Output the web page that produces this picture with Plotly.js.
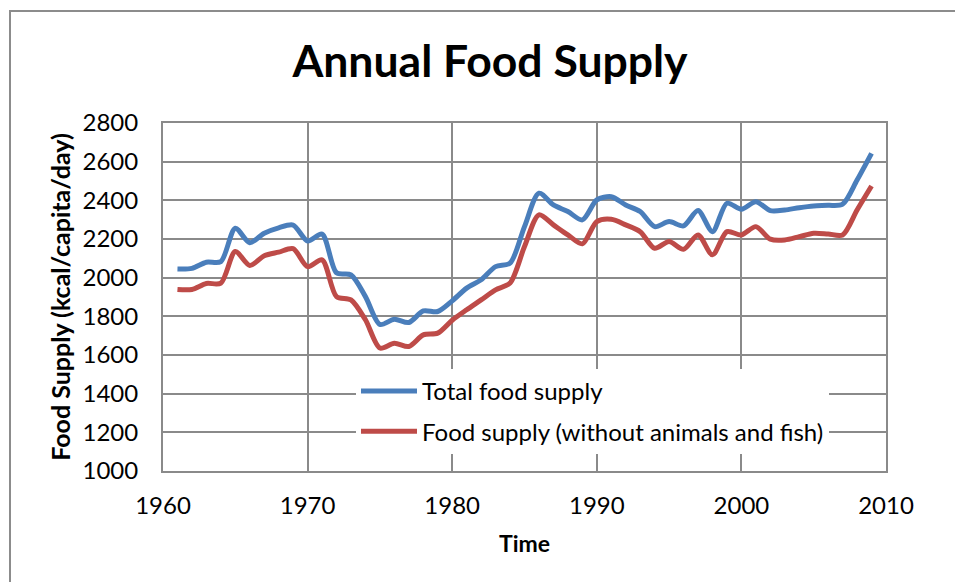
<!DOCTYPE html>
<html>
<head>
<meta charset="utf-8">
<script src="https://cdn.plot.ly/plotly-3.0.1.min.js"></script>
<style>
  html, body { margin: 0; padding: 0; background: #ffffff; }
  #chart { width: 955px; height: 582px; }
</style>
</head>
<body>
<div id="chart"></div>
<script>
const years = [1961,1962,1963,1964,1965,1966,1967,1968,1969,1970,
  1971,1972,1973,1974,1975,1976,1977,1978,1979,1980,
  1981,1982,1983,1984,1985,1986,1987,1988,1989,1990,
  1991,1992,1993,1994,1995,1996,1997,1998,1999,2000,
  2001,2002,2003,2004,2005,2006,2007,2008,2009];

const totalSupply = [2045,2048,2080,2083,2256,2181,2230,2258,2272,2190,
  2225,2025,2015,1902,1758,1785,1768,1828,1825,1880,
  1946,1989,2057,2075,2264,2437,2376,2342,2299,2402,
  2419,2376,2342,2264,2290,2268,2347,2238,2385,2354,
  2393,2347,2350,2362,2371,2374,2380,2505,2643];

const plantSupply = [1939,1939,1970,1972,2135,2063,2113,2132,2150,2057,
  2092,1902,1885,1782,1636,1661,1644,1704,1713,1780,
  1834,1885,1937,1972,2161,2325,2273,2221,2175,2290,
  2302,2273,2238,2152,2187,2147,2221,2118,2238,2221,
  2264,2199,2195,2212,2230,2226,2221,2350,2474];

const seriesNames = ["Total food supply", "Food supply (without animals and fish)"];
const seriesColors = ["#4a7ebb", "#be4b48"];
const xTicks = [1960,1970,1980,1990,2000,2010];
const yTicks = [1000,1200,1400,1600,1800,2000,2200,2400,2600,2800];

const FONT = "Lato, 'Open Sans', sans-serif";
const GRID = "#8a8a8a";

const traces = [
  { x: years, y: totalSupply, name: seriesNames[0], type: "scatter", mode: "lines",
    line: { color: seriesColors[0], width: 5, shape: "spline", smoothing: 0.8 },
    legendgroup: "a" },
  { x: years, y: plantSupply, name: seriesNames[1], type: "scatter", mode: "lines",
    line: { color: seriesColors[1], width: 5, shape: "spline", smoothing: 0.8 },
    legendgroup: "b" }
];

const L = 163, R = 69, T = 123, B = 111;
const W = 955, H = 582;
const pw = W - L - R, ph = H - T - B;
function px2x(p) { return (p - L) / pw; }
function px2y(p) { return (H - B - p) / ph; }

const layout = {
  width: W, height: H,
  margin: { l: L, r: R, t: T, b: B, pad: 0 },
  paper_bgcolor: "#ffffff",
  plot_bgcolor: "#ffffff",
  font: { family: FONT, size: 24, color: "#000000" },
  title: {
    text: "<b>Annual Food Supply</b>",
    font: { family: FONT, size: 44.5, color: "#000000" },
    x: 490 / W, xanchor: "center", xref: "container",
    y: 1 - 61 / H, yanchor: "middle", yref: "container"
  },
  xaxis: {
    range: [1960, 2010],
    tickvals: xTicks,
    ticktext: xTicks.map(String),
    showgrid: true, gridcolor: GRID, gridwidth: 2,
    showline: true, linecolor: GRID, linewidth: 2, mirror: true,
    zeroline: false, ticks: "",
    ticklabelstandoff: 12,
    tickfont: { family: FONT, size: 24, color: "#000000" },
    title: { text: "<b>Time</b>", font: { family: FONT, size: 23, color: "#000000" }, standoff: 18 },
    automargin: false
  },
  yaxis: {
    range: [1000, 2800],
    tickvals: yTicks,
    ticktext: yTicks.map(String),
    showgrid: true, gridcolor: GRID, gridwidth: 2,
    showline: true, linecolor: GRID, linewidth: 2, mirror: true,
    zeroline: false, ticks: "",
    ticklabelstandoff: 18,
    tickfont: { family: FONT, size: 24, color: "#000000" },
    title: { text: "<b>Food Supply (kcal/capita/day)</b>", font: { family: FONT, size: 25, color: "#000000" }, standoff: 5 },
    automargin: false
  },
  showlegend: true,
  legend: {
    x: px2x(356), y: px2y(369), xanchor: "left", yanchor: "top",
    bgcolor: "#ffffff", borderwidth: 0,
    font: { family: FONT, size: 24, color: "#000000" },
    tracegroupgap: 6,
    itemwidth: 56
  },
  shapes: [
    { type: "rect", xref: "paper", yref: "paper",
      x0: px2x(10), x1: px2x(980), y0: px2y(620), y1: px2y(11),
      line: { color: "#8c8c8c", width: 2 }, fillcolor: "rgba(0,0,0,0)", layer: "below" }
  ]
};

Plotly.newPlot("chart", traces, layout, { displayModeBar: false, staticPlot: true });
</script>
</body>
</html>
